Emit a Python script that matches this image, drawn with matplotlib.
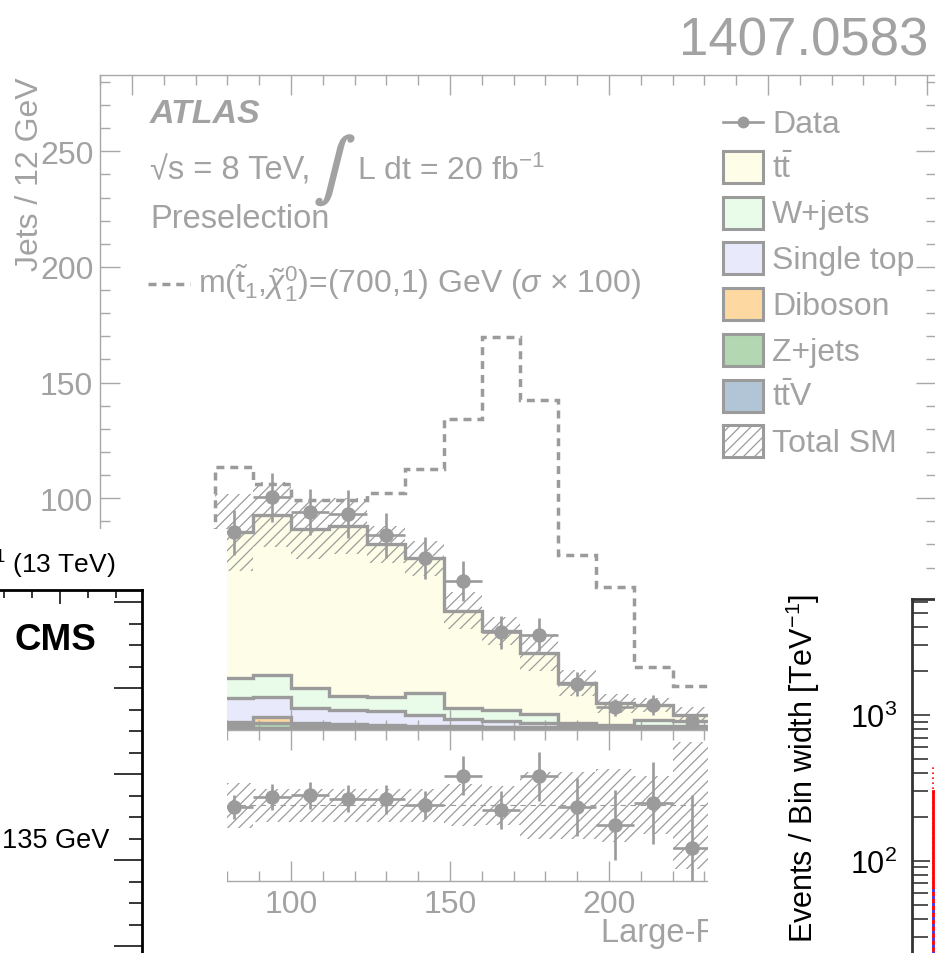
import numpy as np
import matplotlib
matplotlib.use("Agg")
import matplotlib.pyplot as plt
import matplotlib.patheffects as pe
from matplotlib.patches import Rectangle
from matplotlib.lines import Line2D
from matplotlib.ticker import MultipleLocator, LogLocator, NullFormatter, NullLocator

plt.rcParams['font.family'] = ['Liberation Sans', 'DejaVu Sans']
plt.rcParams['mathtext.fontset'] = 'custom'
plt.rcParams['mathtext.rm'] = 'Liberation Sans'
plt.rcParams['mathtext.it'] = 'Liberation Sans:italic'
plt.rcParams['mathtext.bf'] = 'Liberation Sans:bold'
plt.rcParams['hatch.linewidth'] = 0.9

# ATLAS large-R jet mass, 12 GeV bins (visible part only)
bin_edges = [76, 88, 100, 112, 124, 136, 148, 160, 172, 184, 196, 208, 220, 232]
ttv = [0.6, 0.7, 0.6, 0.6, 0.5, 0.5, 0.4, 0.4, 0.3, 0.3, 0.2, 0.2, 0.2]
zjets = [1.3, 2.1, 1.3, 1.1, 0.8, 0.7, 0.6, 0.5, 0.5, 0.4, 0.4, 0.4, 0.3]
diboson = [1.5, 2.5, 0.9, 0.7, 0.6, 0.5, 0.4, 0.3, 0.3, 0.3, 0.3, 0.3, 0.3]
single_top = [10.1, 8.6, 6.5, 6.2, 6.0, 4.7, 3.1, 2.6, 1.7, 0.9, 0.8, 0.8, 0.9]
wjets = [8.6, 9.7, 8.5, 6.0, 6.0, 9.4, 4.8, 4.8, 3.9, 0.9, 0.2, 2.6, 2.1]
ttbar = [63.2, 69.3, 68.9, 73.3, 66.3, 58.2, 42.1, 34.1, 26.4, 17.3, 9.4, 6.3, 2.5]
mc_unc = [16.6, 14, 13, 12, 8, 7.5, 8, 6, 8, 5.5, 4, 3, 3.5]
data = [85.3, 100.4, 93.9, 93.2, 84.0, 74.0, 64.1, 42.0, 41.0, 19.7, 9.6, 10.7, 3.8]
data_err = [9.8, 10.5, 10.0, 10.3, 9.7, 9.1, 8.7, 7.0, 7.2, 5.0, 3.6, 4.3, 2.9]
signal_x100 = [113.4, 106.2, 99.4, 99.4, 102.2, 112.7, 134.3, 169.9, 142.5, 75.5, 61.8, 26.9, 18.9]
ratio = [0.99, 1.056, 1.065, 1.044, 1.039, 1.002, 1.195, 0.97, 1.19, 0.99, 0.87, 1.017, 0.72]
ratio_err = [0.08, 0.087, 0.09, 0.09, 0.095, 0.095, 0.13, 0.125, 0.16, 0.19, 0.23, 0.27, 0.35]
ratio_band = [0.15, 0.11, 0.11, 0.11, 0.11, 0.11, 0.14, 0.13, 0.22, 0.22, 0.24, 0.19, 0.42]

legend_labels = ['t$\\bar{\\mathrm{t}}$', 'W+jets', 'Single top', 'Diboson', 'Z+jets',
                 't$\\bar{\\mathrm{t}}$V']

# right-hand fragment (log scale)
frag_edges = [1.21, 1.6, 2.0]
frag_red = [300, 250]
frag_red_dot = [450, 380]
frag_blue = [66, 50]

W, H = 935, 954
fig = plt.figure(figsize=(W / 100, H / 100), dpi=100)


def box(x0, y0, x1, y1):
    return [x0 / W, 1 - y1 / H, (x1 - x0) / W, (y1 - y0) / H]


def px(x, y):
    return x / W, 1 - y / H


g_line = '#9b9b9b'
g_text = '#a2a2a2'
g_frame = '#a8a8a8'
g_hatch = '#9c9c9c'
fill_cols = ['#b1c5d7', '#b3d7b1', '#fdd8a0', '#e8eafb', '#e9fbe9', '#fefde8']
legend_cols = ['#fefde8', '#e9fbe9', '#e8eafb', '#fdd8a0', '#b3d7b1', '#b1c5d7']
fs = 23

edges = np.array(bin_edges, dtype=float)
centers = 0.5 * (edges[:-1] + edges[1:])

# ---------------- ATLAS main panel ----------------
ax = fig.add_axes(box(100.2, 76, 936.5, 730.5))
bottom = np.zeros(len(centers))
for vals, col in zip([ttv, zjets, diboson, single_top, wjets, ttbar], fill_cols):
    top = bottom + np.array(vals)
    ax.stairs(top, edges, baseline=bottom, fill=True, facecolor=col, edgecolor='none', zorder=1)
    ax.stairs(top, edges, baseline=None, color=g_line, lw=2.4, zorder=2)
    bottom = top
total = bottom
unc = np.array(mc_unc)
ax.stairs(total + unc, edges, baseline=total - unc, fill=True, facecolor='none',
          edgecolor=g_hatch, hatch='///', lw=0, zorder=3)
ax.stairs(signal_x100, edges, baseline=0, fill=False, color=g_line, lw=2.5,
          ls=(0, (2.3, 1.7)), zorder=2.5)
ax.errorbar(centers, data, yerr=data_err, xerr=6, fmt='o', color=g_line, ms=9.4,
            elinewidth=1.9, capsize=0, zorder=5)

ax.set_xlim(40, 303)
ax.set_ylim(0, 283)
ax.xaxis.set_major_locator(MultipleLocator(50))
ax.xaxis.set_minor_locator(MultipleLocator(10))
ax.yaxis.set_major_locator(MultipleLocator(50))
ax.yaxis.set_minor_locator(MultipleLocator(10))
ax.tick_params(which='both', direction='in', top=True, right=True, color=g_frame,
               labelcolor=g_text, labelsize=fs, width=1, pad=5, labelbottom=False)
ax.tick_params(which='major', length=14.5)
ax.tick_params(which='minor', length=7.5)
for s in ax.spines.values():
    s.set_color(g_frame)
    s.set_linewidth(1)

tf = fig.transFigure
ax.text(*px(30, 77), 'Jets / 12 GeV', transform=tf, rotation=90, ha='center', va='top',
        fontsize=fs, color=g_text)
ax.text(*px(150, 123), 'ATLAS', transform=tf, fontsize=24.5, fontweight='bold',
        fontstyle='italic', color=g_text, va='baseline')
ax.text(*px(150, 180), '\u221as = 8 TeV,', transform=tf, fontsize=23.5, color=g_text,
        va='baseline')
ax.text(*px(335, 172), r'$\int$', transform=tf, fontsize=44, color=g_text, ha='center',
        va='center', math_fontfamily='stix',
        path_effects=[pe.withStroke(linewidth=1.5, foreground=g_text)])
ax.text(*px(357, 180), 'L dt = 20 fb$^{-1}$', transform=tf, fontsize=23, color=g_text,
        va='baseline')
ax.text(*px(150, 228), 'Preselection', transform=tf, fontsize=23.5, color=g_text,
        va='baseline')
ax.add_artist(Line2D([px(148, 0)[0], px(190, 0)[0]], [px(0, 285)[1]] * 2, transform=tf,
                     color=g_line, lw=2.5, ls=(0, (2.3, 1.7))))
ax.text(*px(198, 294),
        r'm($\tilde{\mathrm{t}}_1$,$\tilde{\chi}_1^0$)=(700,1) GeV ($\sigma$ $\times$ 100)',
        transform=tf, fontsize=23, color=g_text, va='baseline')

# legend
ax.add_artist(Line2D([px(723, 0)[0], px(763, 0)[0]], [px(0, 123)[1]] * 2, transform=tf,
                     color=g_line, lw=1.9))
ax.add_artist(Line2D([px(743, 0)[0]], [px(0, 123)[1]], transform=tf, color=g_line,
                     marker='o', ms=7.5, lw=0))
ax.text(*px(772, 133), 'Data', transform=tf, fontsize=fs, color=g_text, va='baseline')
row_centers = [168, 213.5, 259, 305, 350.5, 396.5, 441.5]
for i, yc in enumerate(row_centers):
    if i < len(legend_labels):
        rect = Rectangle(px(723, yc + 16), 40 / W, 32 / H, transform=tf,
                         facecolor=legend_cols[i], edgecolor=g_line, lw=2.2)
        label = legend_labels[i]
    else:
        rect = Rectangle(px(723, yc + 16), 40 / W, 32 / H, transform=tf,
                         facecolor='none', edgecolor=g_line, lw=2.2, hatch='///')
        label = 'Total SM'
    ax.add_artist(rect)
    ax.text(*px(772, yc + 10), label, transform=tf, fontsize=fs, color=g_text,
            va='baseline')

# ---------------- ATLAS ratio panel ----------------
axr = fig.add_axes(box(100.2, 730.5, 936.5, 882))
band = np.array(ratio_band)
axr.stairs(1 + band, edges, baseline=1 - band, fill=True, facecolor='none',
           edgecolor=g_hatch, hatch='///', lw=0, zorder=2)
axr.axhline(1, color=g_line, lw=0.8, ls=(0, (5, 4)), zorder=1)
axr.errorbar(centers, ratio, yerr=ratio_err, xerr=6, fmt='o', color=g_line, ms=9.4,
             elinewidth=1.9, capsize=0, zorder=5)
axr.set_xlim(40, 303)
axr.set_ylim(0.5, 1.5)
axr.xaxis.set_major_locator(MultipleLocator(50))
axr.xaxis.set_minor_locator(MultipleLocator(10))
axr.yaxis.set_major_locator(MultipleLocator(0.5))
axr.yaxis.set_minor_locator(MultipleLocator(0.1))
axr.tick_params(which='both', direction='in', top=True, right=True, color=g_frame,
                labelcolor=g_text, labelsize=fs, width=1, pad=6)
axr.tick_params(which='major', length=14.5)
axr.tick_params(which='minor', length=7.5)
for s in axr.spines.values():
    s.set_color(g_frame)
    s.set_linewidth(1)
axr.text(*px(601, 942), 'Large-R jet mass [GeV]', transform=tf, fontsize=23.5,
         color=g_text, va='baseline')

# ---------------- CMS fragment (lower left) ----------------
cms_bg = fig.add_axes(box(0, 530, 227, 954))
cms_bg.set_xticks([])
cms_bg.set_yticks([])
for s in cms_bg.spines.values():
    s.set_visible(False)

cms = fig.add_axes(box(-400, 591, 142, 1033))
cms.set_facecolor('none')
cms.set_xlim(135.7, 329.3)
cms.set_ylim(-20, 82.8)
cms.xaxis.set_major_locator(MultipleLocator(50))
cms.xaxis.set_minor_locator(MultipleLocator(10))
cms.yaxis.set_major_locator(MultipleLocator(20))
cms.yaxis.set_minor_locator(MultipleLocator(5))
cms.tick_params(which='both', direction='in', top=True, right=True, color='black',
                width=1.1, labelbottom=False, labelleft=False)
cms.tick_params(axis='x', which='major', length=10)
cms.tick_params(axis='x', which='minor', length=5.8)
cms.tick_params(axis='y', which='major', length=20)
cms.tick_params(axis='y', which='minor', length=9.5)
for s in cms.spines.values():
    s.set_linewidth(2)
cms.text(*px(115, 574), 'fb$^{-1}$ (13 TeV)', transform=tf, fontsize=19, ha='right',
         va='baseline', color='black')
cms.text(*px(15, 650), 'CMS', transform=tf, fontsize=26.5, fontweight='bold',
         va='baseline', color='black')
cms.text(*px(2, 848), '135 GeV', transform=tf, fontsize=19.5, va='baseline', color='black')

# ---------------- log-scale fragment (lower right) ----------------
rbg = fig.add_axes(box(708, 578, 935, 954))
rbg.set_xticks([])
rbg.set_yticks([])
for s in rbg.spines.values():
    s.set_visible(False)

ra = fig.add_axes(box(912, 600, 1312, 1007.4))
ra.set_facecolor('none')
ra.set_yscale('log')
ra.set_xlim(1.0, 5.0)
ra.set_ylim(10, 6250)
ra.stairs(frag_red_dot, frag_edges, baseline=1, color='red', lw=1.2, ls=(0, (1, 2)))
ra.stairs(frag_red, frag_edges, baseline=1, color='red', lw=2)
ra.stairs(frag_blue, frag_edges, baseline=1, color='#3344ff', lw=2, ls=(0, (1, 1.5)))
ra.xaxis.set_major_locator(NullLocator())
ra.xaxis.set_minor_locator(NullLocator())
ra.yaxis.set_major_locator(LogLocator(base=10))
ra.yaxis.set_minor_locator(LogLocator(base=10, subs=np.arange(2, 10)))
ra.yaxis.set_minor_formatter(NullFormatter())
ra.tick_params(which='both', direction='in', color='#222222', width=1.1,
               labelsize=22, pad=11)
ra.tick_params(which='major', length=13)
ra.tick_params(which='minor', length=11.5)
for s in ra.spines.values():
    s.set_color('#333333')
    s.set_linewidth(2)
ra.text(*px(803, 768), 'Events / Bin width [TeV$^{-1}$]', transform=tf, rotation=90,
        ha='center', va='center', fontsize=22, color='black')

fig.text(*px(928, 55), '1407.0583', fontsize=38, color=g_text, ha='right', va='baseline')

fig.savefig('out.png', dpi=100)
